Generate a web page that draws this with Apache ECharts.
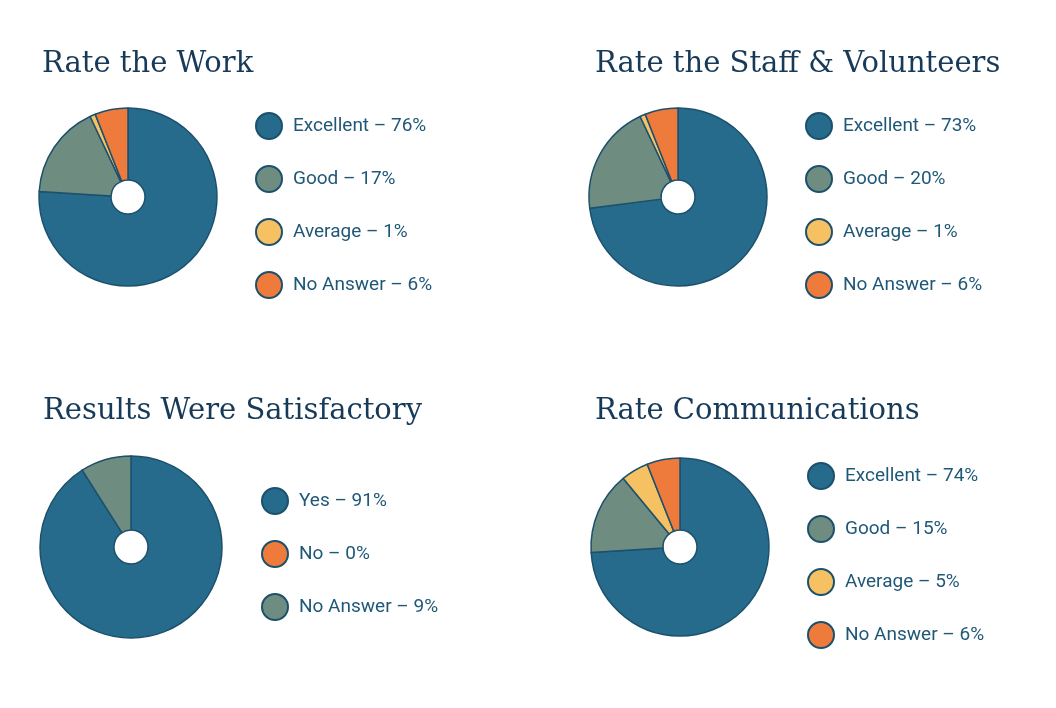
<!DOCTYPE html>
<html><head><meta charset="utf-8">
<script src="https://cdn.jsdelivr.net/npm/echarts@6/dist/echarts.min.js"></script>
<style>html,body{margin:0;background:#fff}#c{width:1056px;height:708px}</style>
</head><body><div id="c"></div>
<script>
// ======================
// DATA
// ======================
const titles = ['Rate the Work', 'Rate the Staff & Volunteers', 'Results Were Satisfactory', 'Rate Communications'];
const ratingNames = ['Excellent', 'Good', 'Average', 'No Answer'];
const resultNames = ['Yes', 'No', 'No Answer'];
const workValues = [76, 17, 1, 6];
const staffValues = [73, 20, 1, 6];
const resultValues = [91, 0, 9];
const commValues = [74, 15, 5, 6];

const BLUE = '#276b8c', GREEN = '#6f8c80', YELLOW = '#f6c163', ORANGE = '#ee7b3c', EDGE = '#1c516d';
const ratingColors = [BLUE, GREEN, YELLOW, ORANGE];
const resultColors = [BLUE, ORANGE, GREEN];

const panels = [
    { names: ratingNames, values: workValues, colors: ratingColors, tx: 37, ty: 45, c: [128, 197], r: 89, lx: 250, ly: 107 },
    { names: ratingNames, values: staffValues, colors: ratingColors, tx: 590, ty: 45, c: [678, 197], r: 89, lx: 800, ly: 107 },
    { names: resultNames, values: resultValues, colors: resultColors, tx: 38, ty: 392, c: [131, 547], r: 91, lx: 256, ly: 482 },
    { names: ratingNames, values: commValues, colors: ratingColors, tx: 590, ty: 392, c: [680, 547], r: 89, lx: 802, ly: 457 }
];

const label = (n, v) => n + ' \u2013 ' + v + '%';

const chart = echarts.init(document.getElementById('c'));
chart.setOption({
    animation: false,
    title: panels.map((p, i) => ({
        text: titles[i], left: p.tx, top: p.ty,
        textStyle: { fontFamily: 'DejaVu Serif', fontWeight: 'normal', fontSize: 29, color: '#173a59' }
    })),
    legend: panels.map((p, i) => ({
        orient: 'vertical', left: p.lx, top: p.ly, icon: 'circle',
        itemWidth: 26, itemHeight: 26, itemGap: 25,
        data: p.names.map((n, j) => label(n, p.values[j])),
        itemStyle: { borderColor: EDGE, borderWidth: 2 },
        textStyle: { fontFamily: 'Roboto', fontSize: 19, color: '#1f5877', padding: [0, 0, 0, 6] },
        selectedMode: false
    })),
    series: panels.map((p, i) => ({
        type: 'pie', center: p.c, radius: [17, p.r], startAngle: 90, clockwise: true,
        label: { show: false }, labelLine: { show: false }, silent: true,
        itemStyle: { borderColor: EDGE, borderWidth: 1.5 },
        data: p.names.map((n, j) => ({ name: label(n, p.values[j]), value: p.values[j], itemStyle: { color: p.colors[j] } }))
    }))
});
</script></body></html>
